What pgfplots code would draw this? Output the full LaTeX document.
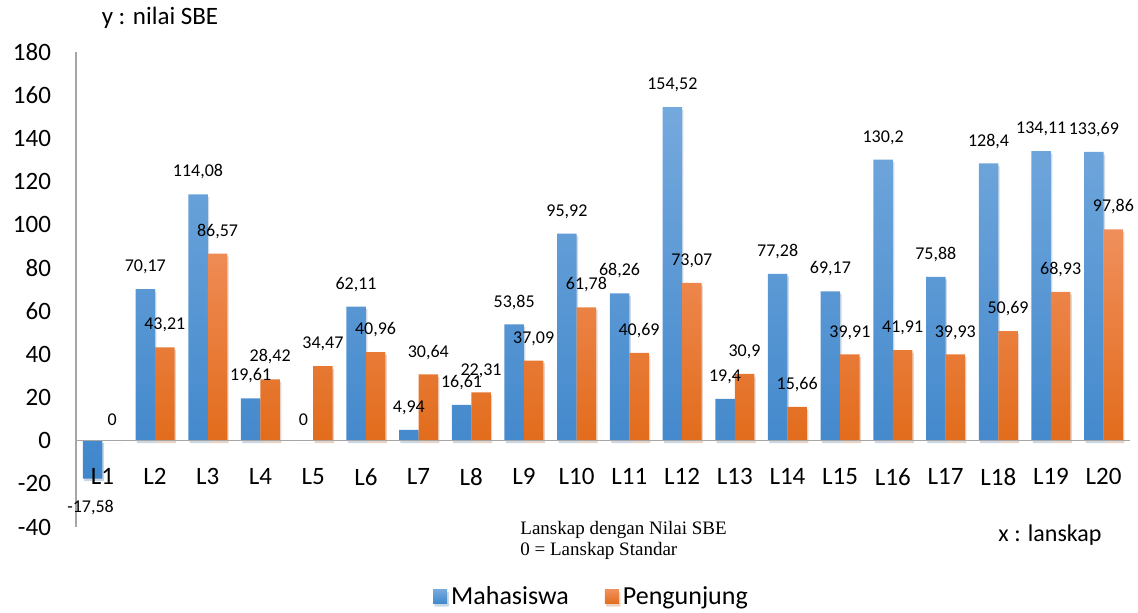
\documentclass[border=0pt]{standalone}
\usepackage{pgfplots}
\usepackage{pgfplotstable}
\pgfplotsset{compat=1.18}
\usetikzlibrary{shadows}
\usepackage{fontspec}
\setmainfont{Carlito}
\newfontfamily\serifnote{Liberation Serif}
\definecolor{bluetop}{HTML}{74A9DD}
\definecolor{bluemid}{HTML}{5A9AD8}
\definecolor{bluebot}{HTML}{3F86CB}
\definecolor{orgtop}{HTML}{F08F5C}
\definecolor{orgmid}{HTML}{F37C2C}
\definecolor{orgbot}{HTML}{E26C1C}
\definecolor{axgray}{HTML}{A6A6A6}
\pgfplotstableread{
x m ml p pl
0 -17.58 {} 0 0
1 70.17 70,17 43.21 43,21
2 114.08 114,08 86.57 86,57
3 19.61 19,61 28.42 28,42
4 0 0 34.47 34,47
5 62.11 62,11 40.96 40,96
6 4.94 4,94 30.64 30,64
7 16.61 16,61 22.31 22,31
8 53.85 53,85 37.09 37,09
9 95.92 95,92 61.78 61,78
10 68.26 68,26 40.69 40,69
11 154.52 154,52 73.07 73,07
12 19.4 19,4 30.9 30,9
13 77.28 77,28 15.66 15,66
14 69.17 69,17 39.91 39,91
15 130.2 130,2 41.91 41,91
16 75.88 75,88 39.93 39,93
17 128.4 128,4 50.69 50,69
18 134.11 134,11 68.93 68,93
19 133.69 133,69 97.86 97,86
}\data
\begin{document}
\begin{tikzpicture}
\path[use as bounding box] (-38pt,-42.5pt) rectangle (531pt,263.5pt);
\begin{axis}[
  at={(0pt,0pt)}, anchor=south west,
  scale only axis, width=527pt, height=237.5pt,
  xmin=-0.5, xmax=19.5, ymin=-40, ymax=180,
  axis x line=middle, axis y line=left, axis on top,
  axis line style={-, draw=axgray, line width=0.8pt},
  major tick length=0pt,
  xtick={0,...,19},
  xticklabels={L1,L2,L3,L4,L5,L6,L7,L8,L9,L10,L11,L12,L13,L14,L15,L16,L17,L18,L19,L20},
  ytick={-40,-20,0,20,40,60,80,100,120,140,160,180},
  yticklabels={-40,-20,0,20,40,60,80,100,120,140,160,180},
  ticklabel style={font=\fontsize{12.5}{14}\selectfont, text=black},
  yticklabel style={xshift=-9pt},
  xticklabel style={yshift=-10.5pt},
  ybar, bar width=9.75pt,
  nodes near coords,
  point meta=explicit symbolic,
  every node near coord/.append style={font=\fontsize{9}{10}\selectfont, text=black, yshift=4pt},
  legend style={at={(axis description cs:0.490,-0.147)}, anchor=center, draw=none,
    fill=none, legend columns=2, font=\fontsize{13}{15}\selectfont,
    /tikz/every even column/.append style={column sep=16pt}},
]
\addplot[draw=none, bar shift=-4.875pt, top color=bluetop, middle color=bluemid, bottom color=bluebot,
  drop shadow={shadow xshift=0.7pt, shadow yshift=-1.3pt, opacity=0.18},
  legend image code/.code={\shade[top color=bluetop,bottom color=bluebot] (0pt,-3.5pt) rectangle (7pt,3.5pt);}]
  table[x=x, y=m, meta=ml]{\data};
\addlegendentry{Mahasiswa}
\addplot[draw=none, bar shift=4.875pt, top color=orgtop, middle color=orgmid, bottom color=orgbot,
  drop shadow={shadow xshift=0.7pt, shadow yshift=-1.3pt, opacity=0.18},
  legend image code/.code={\shade[top color=orgtop,bottom color=orgbot] (0pt,-3.5pt) rectangle (7pt,3.5pt);}]
  table[x=x, y=p, meta=pl]{\data};
\addlegendentry{Pengunjung}
\addplot[draw=none, fill=none, bar shift=-4.875pt, forget plot,
  every node near coord/.append style={anchor=north, yshift=-11.5pt, xshift=-1pt}]
  coordinates {(0,-17.58) [{-17,58}]};
\end{axis}
\node[font=\fontsize{12.5}{14}\selectfont] at (42pt,254.5pt) {y : nilai SBE};
\node[font=\fontsize{12}{14}\selectfont] at (487pt,-4pt) {x : lanskap};
\node[font=\serifnote\fontsize{9.5}{10.5}\selectfont, align=left, anchor=west, inner sep=0pt] at (222pt,-6.5pt) {Lanskap dengan Nilai SBE\\0 = Lanskap Standar};
\end{tikzpicture}
\end{document}
